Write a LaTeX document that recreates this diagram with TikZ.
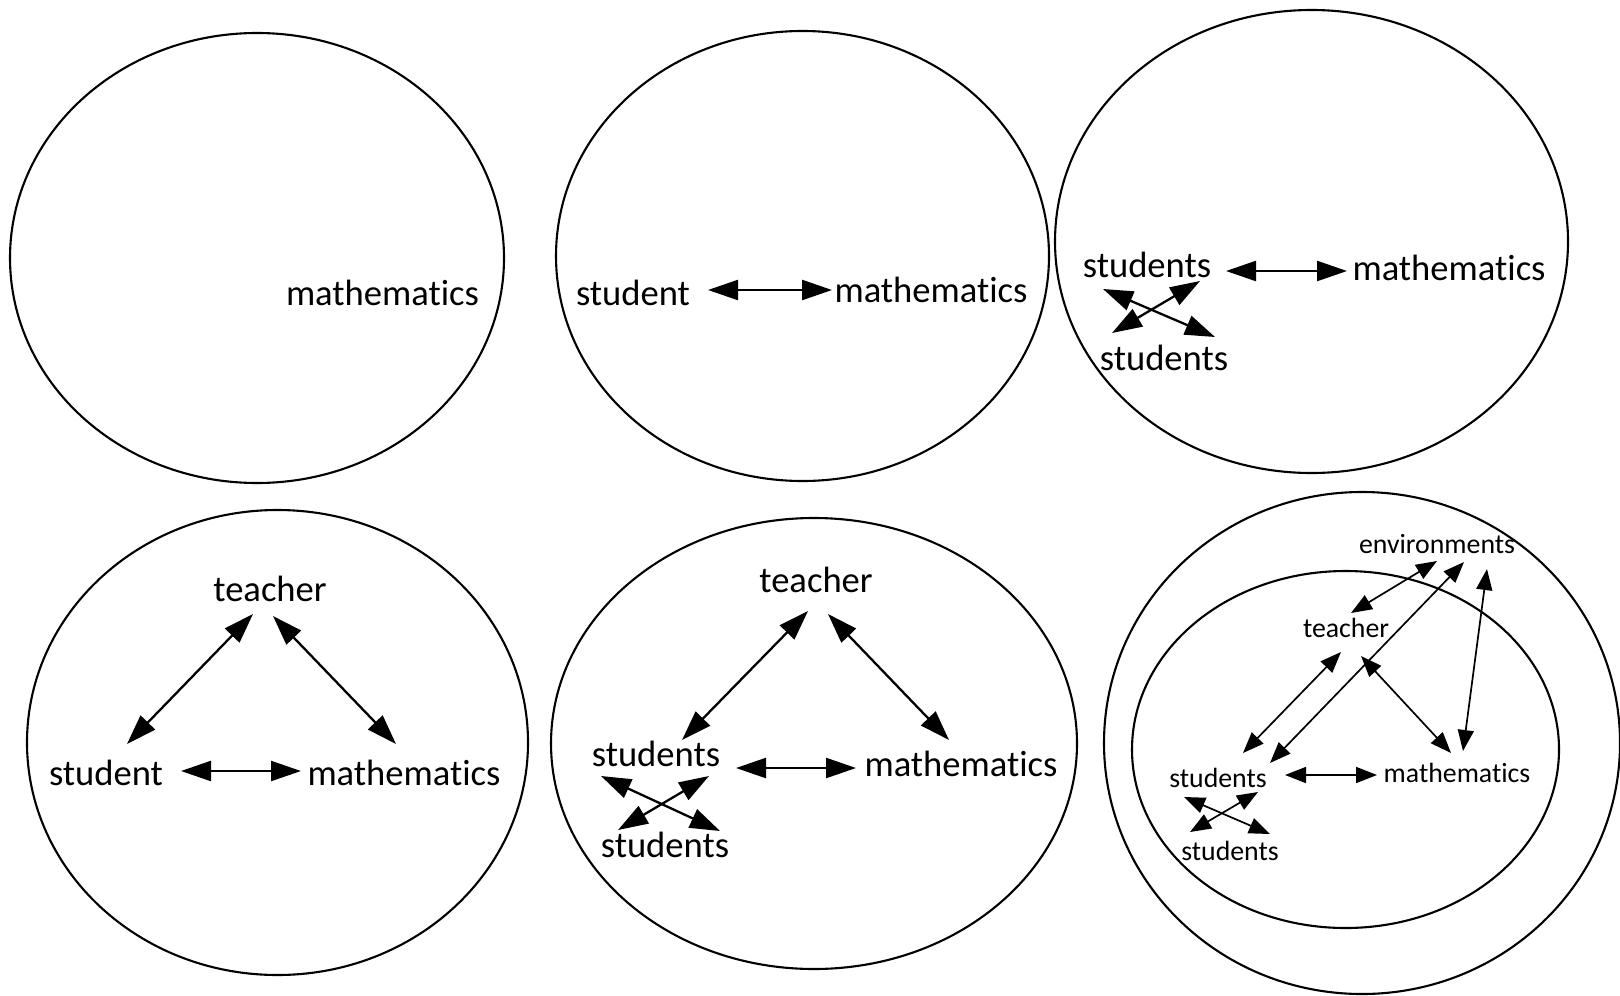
\documentclass[tikz,border=0pt]{standalone}
\usepackage{fontspec}
\setmainfont{Carlito}[RawFeature={-liga;-clig;-calt;-dlig}]
\usetikzlibrary{arrows.meta,calc}

\begin{document}
\begin{tikzpicture}[x=0.5pt,y=-0.5pt,
		word/.style={inner sep=0pt,anchor=base,font=\fontsize{18.3}{22}\selectfont},
		smallword/.style={inner sep=0pt,anchor=base,font=\fontsize{13.9}{17}\selectfont},
		twoway/.style={{Triangle[length=15pt,width=10pt]}-{Triangle[length=15pt,width=10pt]},line width=1.15pt},
		smalltwoway/.style={{Triangle[length=10.5pt,width=8pt]}-{Triangle[length=10.5pt,width=8pt]},line width=0.85pt},
		ring/.style={line width=1.05pt}]
				\useasboundingbox (0,0) rectangle (1620,995);
				
				\draw[ring] (257,258) ellipse [x radius=247, y radius=225];
				\draw[ring] (802.5,256) ellipse [x radius=246.5, y radius=225];
				\draw[ring] (1311.5,241.5) ellipse [x radius=256.5, y radius=231.5];
				\draw[ring] (277.5,742.5) ellipse [x radius=250.5, y radius=232.5];
				\draw[ring] (814,743.5) ellipse [x radius=263, y radius=225.5];
				\draw[ring] (1362,743) ellipse [x radius=258, y radius=251];
				\draw[ring] (1345.5,749.5) ellipse [x radius=213.5, y radius=178.5];
				
				% one
				\node[word] (ma1) at (382.5,305) {mathematics};
				
				% two
				\node[word] (st2) at (633,305) {student};
				\node[word] (ma2) at (931,302) {mathematics};
				\draw[twoway] ($(st2.base)+(75,-15)$) -- ($(ma2.base)+(-99,-12)$);
				
				% three
				\node[word] (st3a) at (1147,277) {students};
				\node[word] (ma3) at (1449,280) {mathematics};
				\node[word] (st3b) at (1164,370) {students};
				\draw[twoway] ($(st3a.base)+(79,-6)$) -- ($(ma3.base)+(-102,-9)$);
				\draw[twoway] ($(st3a.base)+(-44,12)$) -- ($(st3b.base)+(51,-33)$);
				\draw[twoway] ($(st3a.base)+(53,4)$) -- ($(st3b.base)+(-52,-37)$);
				
				% four
				\node[word] (te4) at (270,601) {teacher};
				\node[word] (st4) at (106,785) {student};
				\node[word] (ma4) at (404,785) {mathematics};
				\draw[twoway] ($(te4.base)+(-17,13)$) -- ($(st4.base)+(21,-41)$);
				\draw[twoway] ($(te4.base)+(3,15)$) -- ($(ma4.base)+(-8,-41)$);
				\draw[twoway] ($(st4.base)+(75,-14)$) -- ($(ma4.base)+(-103,-14)$);
				
				% five
				\node[word] (te5) at (816,592) {teacher};
				\node[word] (st5a) at (656,766) {students};
				\node[word] (ma5) at (961,776) {mathematics};
				\node[word] (st5b) at (665,857) {students};
				\draw[twoway] ($(te5.base)+(-8,19)$) -- ($(st5a.base)+(26,-26)$);
				\draw[twoway] ($(te5.base)+(12,22)$) -- ($(ma5.base)+(-12,-36)$);
				\draw[twoway] ($(st5a.base)+(80,2)$) -- ($(ma5.base)+(-105,-8)$);
				\draw[twoway] ($(st5a.base)+(-55,10)$) -- ($(st5b.base)+(55,-26)$);
				\draw[twoway] ($(st5a.base)+(53,10)$) -- ($(st5b.base)+(-47,-27)$);
				
				% six
				\node[smallword] (env) at (1437,553) {environments};
				\node[smallword] (te6) at (1346,637) {teacher};
				\node[smallword] (st6a) at (1218,787) {students};
				\node[smallword] (ma6) at (1457,782) {mathematics};
				\node[smallword] (st6b) at (1230,860) {students};
				\draw[smalltwoway] ($(env.base)+(0,8)$) -- ($(te6.base)+(5,-24)$);
				\draw[smalltwoway] ($(env.base)+(27,9)$) -- ($(st6a.base)+(52,-24)$);
				\draw[smalltwoway] ($(env.base)+(50,16)$) -- ($(ma6.base)+(6,-31)$);
				\draw[smalltwoway] ($(te6.base)+(-5,15)$) -- ($(st6a.base)+(25,-34)$);
				\draw[smalltwoway] ($(te6.base)+(15,19)$) -- ($(ma6.base)+(-6,-29)$);
				\draw[smalltwoway] ($(st6a.base)+(67,-12)$) -- ($(ma6.base)+(-80,-7)$);
				\draw[smalltwoway] ($(st6a.base)+(-34,10)$) -- ($(st6b.base)+(40,-26)$);
				\draw[smalltwoway] ($(st6a.base)+(40,5)$) -- ($(st6b.base)+(-40,-28)$);
			\end{tikzpicture}
\end{document}
